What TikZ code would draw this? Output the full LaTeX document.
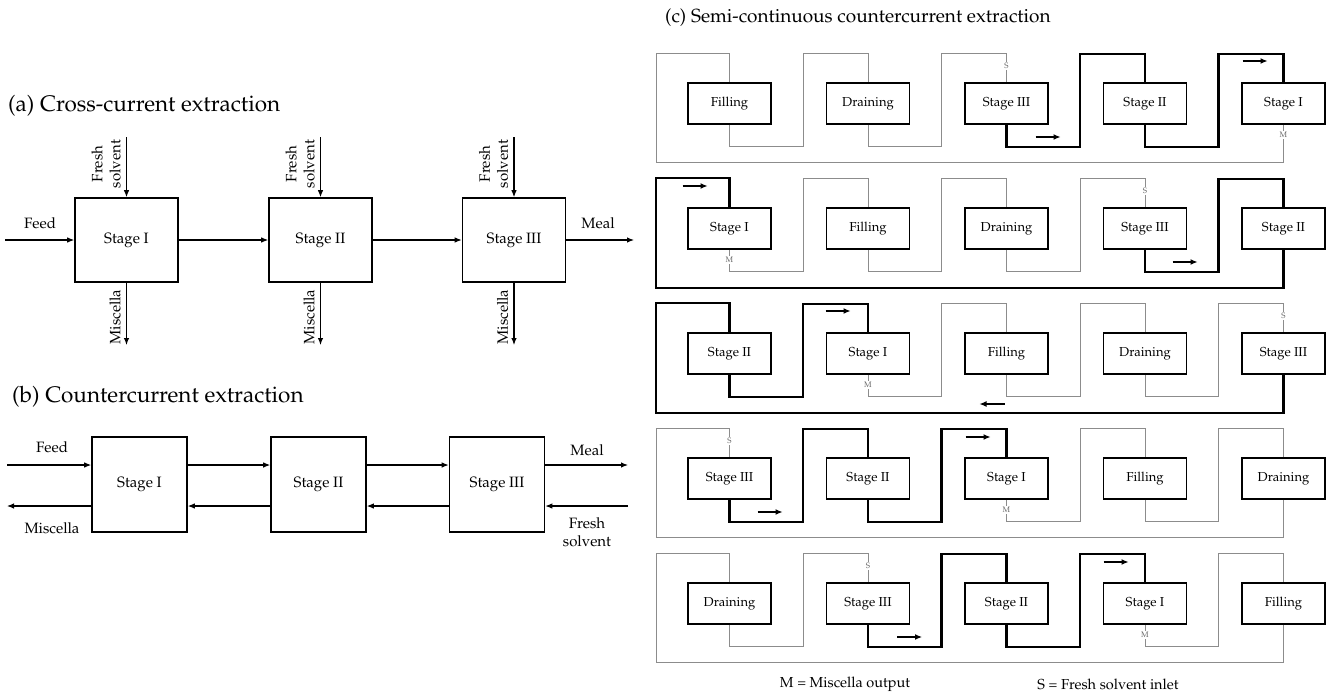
\documentclass[tikz,border=0pt]{standalone}
\usepackage[T1]{fontenc}
\usepackage{mathpazo}
\usetikzlibrary{arrows.meta,calc}

\newcommand{\crow}[6]{%
  \pgfmathsetmacro{\ry}{103.5+125*#1}%
  \node[cbox] (c#1-0) at (729.5,\ry) {#2};
  \node[cbox] (c#1-1) at (868,\ry) {#3};
  \node[cbox] (c#1-2) at (1006.5,\ry) {#4};
  \node[cbox] (c#1-3) at (1145,\ry) {#5};
  \node[cbox] (c#1-4) at (1283.5,\ry) {#6};
  \coordinate (o#1) at (656,\ry-50.5);
}
\newcommand{\cseg}[3]{%
  \pgfmathtruncatemacro{\nk}{#2+1}%
  \draw[#3] (c#1-#2.south) -- ++(0,22) -- ++(73.5,0) -- ++(0,-93) -| (c#1-\nk.north);
}
\newcommand{\cret}[2]{%
  \draw[#2] (c#1-4.south) -- ++(0,38) -| (o#1) -| (c#1-0.north);
}
\newcommand{\carr}[4]{% name, x center, y, direction (1 right, -1 left)
  \coordinate (#1s) at ({#2-12.5*#4},#3);
  \coordinate (#1e) at ({#2+12.5*#4},#3);
  \draw[carrow] (#1s) -- (#1e);
}

\begin{document}
\begin{tikzpicture}[x=1pt,y=-1pt,
  every node/.style={font=\fontsize{15}{18}\selectfont, inner sep=0pt},
  ttl/.style={font=\fontsize{22.5}{26}\selectfont, anchor=west},
  ttlc/.style={font=\fontsize{19}{22}\selectfont, anchor=west},
  sbox/.style={draw, line width=1.6pt, minimum width=103pt, minimum height=84pt},
  bbox/.style={draw, line width=1.6pt, minimum width=95pt, minimum height=95pt},
  cbox/.style={draw, line width=1.5pt, minimum width=83pt, minimum height=41pt, font=\fontsize{13}{15}\selectfont},
  flow/.style={line width=1.1pt, -{Latex[length=7pt,width=5.5pt]}},
  carrow/.style={line width=1.2pt, -{Latex[length=7pt,width=6pt]}},
  thn/.style={line width=0.9pt, draw=black!45},
  thk/.style={line width=2.4pt, draw=black},
  lett/.style={font=\fontsize{8}{9}\selectfont, fill=white, inner sep=1.2pt, text=black!60},
  rot/.style={rotate=90, align=center}
]
\useasboundingbox (0,0) rectangle (1326,694);

% ---------------- (a) ----------------
\node[ttl] (ta) at (8,106) {(a) Cross-current extraction};
\node[sbox] (a1) at (126.5,240) {Stage I};
\node[sbox] (a2) at (320.5,240) {Stage II};
\node[sbox] (a3) at (514,240) {Stage III};
\coordinate (afeed) at (5,240);
\coordinate (ameal) at (634,240);
\draw[flow] (afeed) -- (a1.west);
\draw[flow] (a1.east) -- (a2.west);
\draw[flow] (a2.east) -- (a3.west);
\draw[flow] (a3.east) -- (ameal);
\node (lfeeda) at (40,223) {Feed};
\node (lmeala) at (598,223) {Meal};
\foreach \i/\x in {1/126.5,2/320.5,3/514}{
  \coordinate (fs\i) at (\x,137);
  \coordinate (ms\i) at (\x,345);
  \draw[flow] (fs\i) -- (a\i.north);
  \draw[flow] (a\i.south) -- (ms\i);
  \node[rot] (lfs\i) at (\x-20.5,164) {Fresh\\solvent};
  \node[rot] (lms\i) at (\x-11.5,317) {Miscella};
}

% ---------------- (b) ----------------
\node[ttl] (tb) at (12,397) {(b) Countercurrent extraction};
\node[bbox] (b1) at (139.5,484.5) {Stage I};
\node[bbox] (b2) at (318.5,484.5) {Stage II};
\node[bbox] (b3) at (497,484.5) {Stage III};
\coordinate (bfeed) at (7,465);
\coordinate (bmis) at (7,506);
\coordinate (bmeal) at (628,465);
\coordinate (bfs) at (628,506);
\draw[flow] (bfeed) -- (b1.west |- bfeed);
\draw[flow] (b1.west |- bmis) -- (bmis);
\draw[flow] (b1.east |- bfeed) -- (b2.west |- bfeed);
\draw[flow] (b2.west |- bmis) -- (b1.east |- bmis);
\draw[flow] (b2.east |- bfeed) -- (b3.west |- bfeed);
\draw[flow] (b3.west |- bmis) -- (b2.east |- bmis);
\draw[flow] (b3.east |- bmeal) -- (bmeal);
\draw[flow] (bfs) -- (b3.east |- bfs);
\node (lfeedb) at (52,447) {Feed};
\node (lmisb) at (52,528) {Miscella};
\node (lmealb) at (587,450) {Meal};
\node[align=center] (lfsb) at (587,532) {Fresh\\solvent};

% ---------------- (c) ----------------
\node[ttlc] (tc) at (665,18) {(c) Semi-continuous countercurrent extraction};

\crow{0}{Filling}{Draining}{Stage III}{Stage II}{Stage I}
\crow{1}{Stage I}{Filling}{Draining}{Stage III}{Stage II}
\crow{2}{Stage II}{Stage I}{Filling}{Draining}{Stage III}
\crow{3}{Stage III}{Stage II}{Stage I}{Filling}{Draining}
\crow{4}{Draining}{Stage III}{Stage II}{Stage I}{Filling}

% row 1
\cseg{0}{0}{thn}\cseg{0}{1}{thn}\cret{0}{thn}
\cseg{0}{2}{thk}\cseg{0}{3}{thk}
% row 2
\cseg{1}{0}{thn}\cseg{1}{1}{thn}\cseg{1}{2}{thn}
\cseg{1}{3}{thk}\cret{1}{thk}
% row 3
\cseg{2}{1}{thn}\cseg{2}{2}{thn}\cseg{2}{3}{thn}
\cseg{2}{0}{thk}\cret{2}{thk}
% row 4
\cseg{3}{2}{thn}\cseg{3}{3}{thn}\cret{3}{thn}
\cseg{3}{0}{thk}\cseg{3}{1}{thk}
% row 5
\cseg{4}{0}{thn}\cseg{4}{3}{thn}\cret{4}{thn}
\cseg{4}{1}{thk}\cseg{4}{2}{thk}

% S and M markers
\node[lett] (s0) at ([yshift=16pt]c0-2.north) {S};
\node[lett] (m0) at ([yshift=-10pt]c0-4.south) {M};
\node[lett] (s1) at ([yshift=16pt]c1-3.north) {S};
\node[lett] (m1) at ([yshift=-10pt]c1-0.south) {M};
\node[lett] (s2) at ([yshift=16pt]c2-4.north) {S};
\node[lett] (m2) at ([yshift=-10pt]c2-1.south) {M};
\node[lett] (s3) at ([yshift=16pt]c3-0.north) {S};
\node[lett] (m3) at ([yshift=-10pt]c3-2.south) {M};
\node[lett] (s4) at ([yshift=16pt]c4-1.north) {S};
\node[lett] (m4) at ([yshift=-10pt]c4-3.south) {M};

% direction arrows
\carr{ar0a}{1048}{137}{1}
\carr{ar0b}{1255}{61}{1}
\carr{ar1a}{695}{186}{1}
\carr{ar1b}{1185}{262}{1}
\carr{ar2a}{838}{311}{1}
\carr{ar2b}{992}{404}{-1}
\carr{ar3a}{770}{512}{1}
\carr{ar3b}{978}{437}{1}
\carr{ar4a}{909.5}{637}{1}
\carr{ar4b}{1116}{562}{1}

% legend
\node[font=\fontsize{14.5}{17}\selectfont] (legm) at (845,684) {M = Miscella output};
\node[font=\fontsize{14.5}{17}\selectfont] (legs) at (1108,684) {S = Fresh solvent inlet};
\end{tikzpicture}
\end{document}
